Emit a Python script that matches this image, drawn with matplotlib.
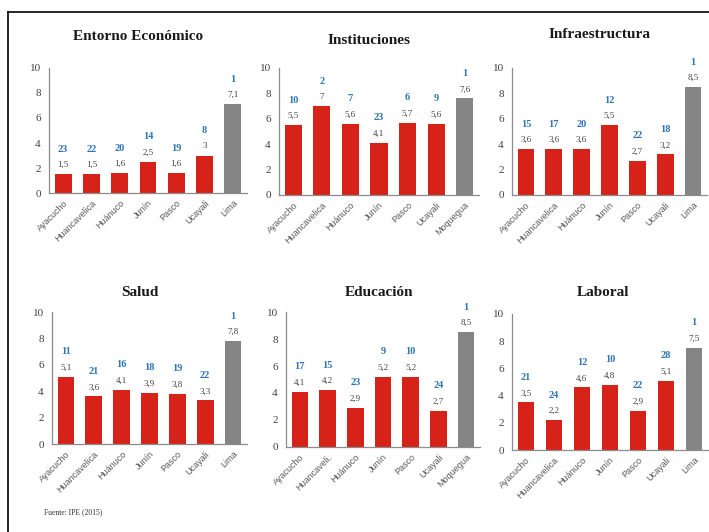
import matplotlib
matplotlib.use("Agg")
import matplotlib.pyplot as plt
from matplotlib.lines import Line2D

# Regional competitiveness index (0-10) and national rank, by pillar
cats_lima = ["Ayacucho", "Huancavelica", "Huánuco", "Junín", "Pasco", "Ucayali", "Lima"]
cats_moq = ["Ayacucho", "Huancavelica", "Huánuco", "Junín", "Pasco", "Ucayali", "Moquegua"]
cats_edu = ["Ayacucho", "Huancaveli.", "Huánuco", "Junín", "Pasco", "Ucayali", "Moquegua"]

entorno_vals = [1.5, 1.5, 1.6, 2.5, 1.6, 3.0, 7.1]
entorno_rank = [23, 22, 20, 14, 19, 8, 1]

instit_vals = [5.5, 7.0, 5.6, 4.1, 5.7, 5.6, 7.6]
instit_rank = [10, 2, 7, 23, 6, 9, 1]

infra_vals = [3.6, 3.6, 3.6, 5.5, 2.7, 3.2, 8.5]
infra_rank = [15, 17, 20, 12, 22, 18, 1]

salud_vals = [5.1, 3.6, 4.1, 3.9, 3.8, 3.3, 7.8]
salud_rank = [11, 21, 16, 18, 19, 22, 1]

educ_vals = [4.1, 4.2, 2.9, 5.2, 5.2, 2.7, 8.5]
educ_rank = [17, 15, 23, 9, 10, 24, 1]

laboral_vals = [3.5, 2.2, 4.6, 4.8, 2.9, 5.1, 7.5]
laboral_rank = [21, 24, 12, 10, 22, 28, 1]

yticks = [0, 2, 4, 6, 8, 10]

# title, categories, values, ranks, axes rect, title position (px)
panels = [
    ("Entorno Económico", cats_lima, entorno_vals, entorno_rank, [0.0691, 0.6372, 0.2793, 0.2350], (138.5, 37)),
    ("Instituciones", cats_moq, instit_vals, instit_rank, [0.3935, 0.6335, 0.2821, 0.2387], (369.5, 40)),
    ("Infraestructura", cats_lima, infra_vals, infra_rank, [0.7221, 0.6335, 0.2751, 0.2387], (600, 35)),
    ("Salud", cats_lima, salud_vals, salud_rank, [0.0733, 0.1654, 0.2751, 0.2481], (140, 293)),
    ("Educación", cats_edu, educ_vals, educ_rank, [0.4034, 0.1598, 0.2736, 0.2537], (379.5, 293)),
    ("Laboral", cats_lima, laboral_vals, laboral_rank, [0.7221, 0.1541, 0.2765, 0.2557], (603.5, 292)),
]

RED = "#D7221A"
GREY_BAR = "#858585"
BLUE = "#2E75B6"
SERIF = ["Liberation Serif", "DejaVu Serif"]
SANS = ["Liberation Sans", "DejaVu Sans"]

W, H = 709, 532
fig = plt.figure(figsize=(W / 100, H / 100), dpi=100)
fig.patch.set_facecolor("white")


def fmt(v):
    if float(v).is_integer():
        return str(int(v))
    return f"{v:.1f}".replace(".", ",")


for title, cats, vals, ranks, rect, (tx, ty) in panels:
    ax = fig.add_axes(rect)
    x = list(range(len(cats)))
    colors = [RED] * (len(cats) - 1) + [GREY_BAR]
    ax.bar(x, vals, width=0.6, color=colors, edgecolor="none", zorder=2)
    ax.set_xlim(-0.5, len(cats) - 0.5)
    ax.set_ylim(0, 10)
    ax.set_yticks(yticks)
    ax.set_yticklabels([str(t) for t in yticks], family=SERIF, fontsize=8, color="#404040")
    ax.set_xticks(x)
    ax.set_xticklabels(cats, rotation=45, ha="right", rotation_mode="anchor",
                       family=SANS, fontsize=6.5, color="#595959")
    ax.tick_params(axis="both", length=0, pad=4)
    ax.tick_params(axis="y", pad=6)
    for s in ["top", "right"]:
        ax.spines[s].set_visible(False)
    for s in ["left", "bottom"]:
        ax.spines[s].set_color("#8c8c8c")
        ax.spines[s].set_linewidth(0.9)
    for xi, v, r in zip(x, vals, ranks):
        ax.annotate(fmt(v), (xi, v), xytext=(0, 6.5), textcoords="offset points",
                    ha="center", va="center", family=SERIF, fontsize=6.5,
                    color="#404040", annotation_clip=False)
        ax.annotate(str(r), (xi, v), xytext=(0, 18), textcoords="offset points",
                    ha="center", va="center", family=SERIF, fontsize=7.5,
                    fontweight="bold", color=BLUE, annotation_clip=False)
    fig.text(tx / W, 1 - ty / H, title, ha="center", va="center",
             family=SERIF, fontsize=11, fontweight="bold", color="#1a1a1a")

fig.text(44 / W, 1 - 512 / H, "Fuente: IPE (2015)", ha="left", va="center",
         family=SERIF, fontsize=5.5, color="#333333")

# frame around the page
fig.add_artist(Line2D([8 / W, 8 / W], [0, 1 - 12 / H], color="black", lw=1.2,
                      transform=fig.transFigure))
fig.add_artist(Line2D([8 / W, 1], [1 - 12 / H, 1 - 12 / H], color="black", lw=1.2,
                      transform=fig.transFigure))

fig.savefig("out.png", dpi=100)
